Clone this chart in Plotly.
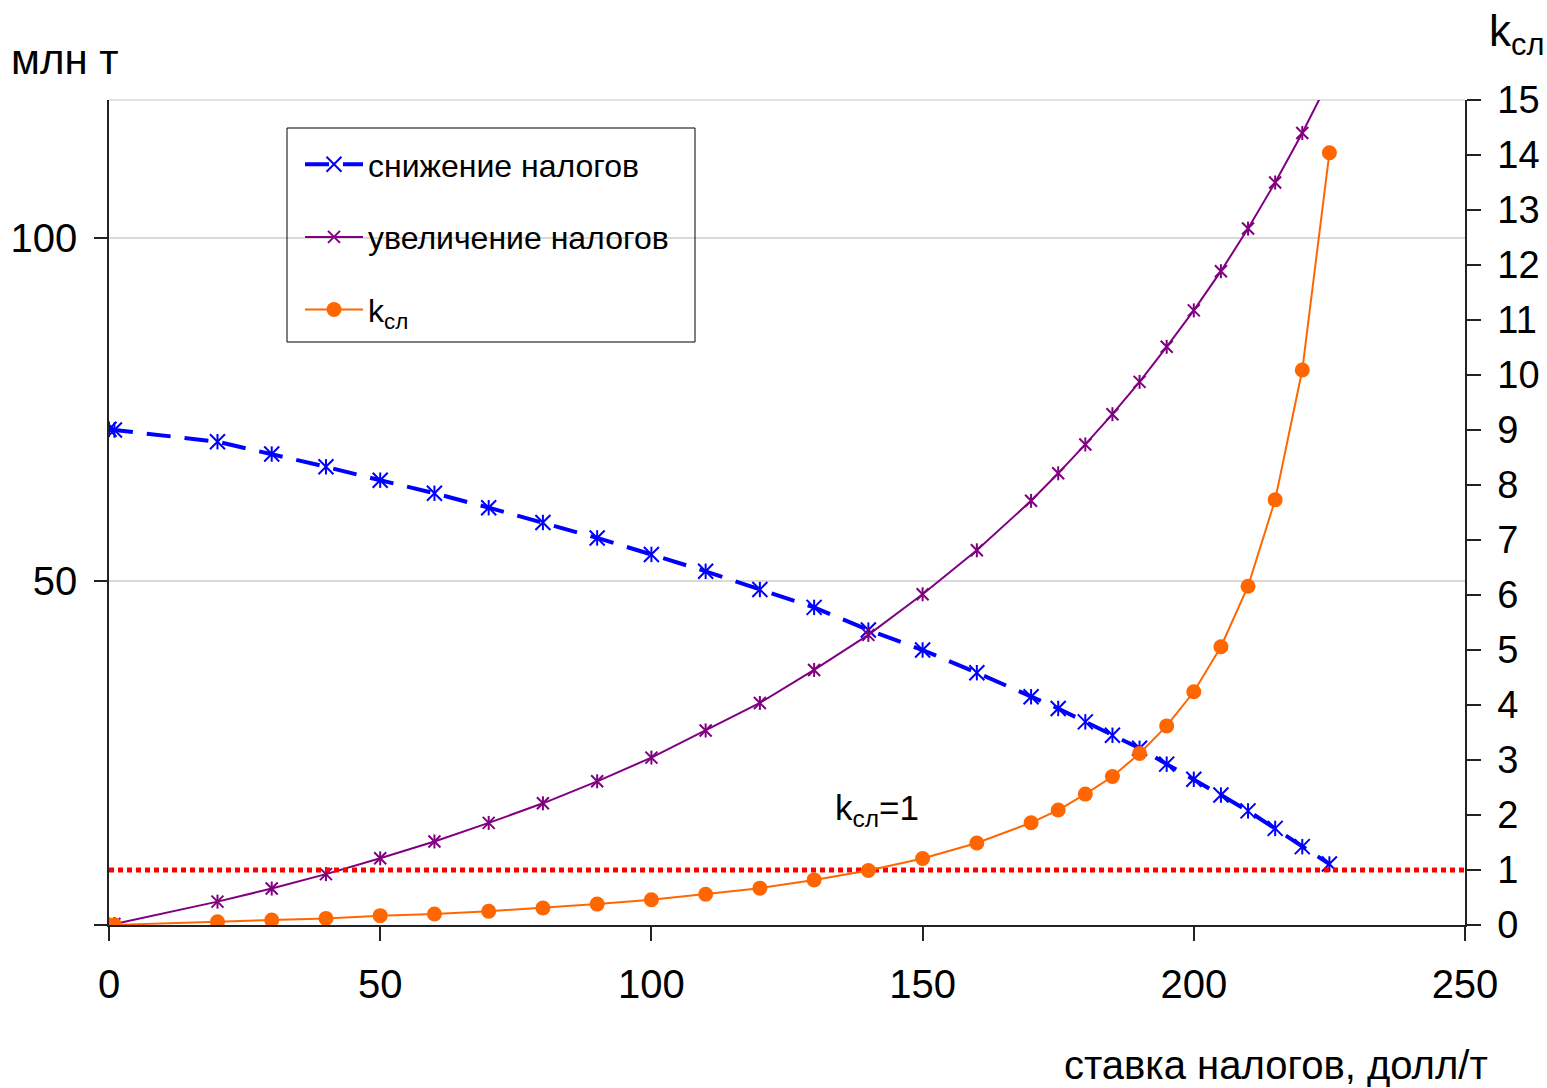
import plotly.graph_objects as go

# ---- data ----
x_rate = [0, 1, 20, 30, 40, 50, 60, 70, 80, 90, 100, 110, 120, 130, 140, 150,
          160, 170, 175, 180, 185, 190, 195, 200, 205, 210, 215, 220, 225]
y_decrease = [72.1, 72.0, 70.3, 68.5, 66.65, 64.7, 62.8, 60.7, 58.55, 56.3, 53.9,
              51.45, 48.8, 46.2, 42.9, 40.0, 36.7, 33.2, 31.5, 29.55, 27.6, 25.7,
              23.4, 21.2, 18.9, 16.6, 14.05, 11.4, 8.87]
y_increase = [0.0, 0.15, 3.4, 5.3, 7.4, 9.7, 12.15, 14.85, 17.7, 20.9, 24.35,
              28.3, 32.3, 37.1, 42.2, 48.1, 54.5, 61.7, 65.7, 69.9, 74.3, 79.0,
              84.1, 89.4, 95.1, 101.3, 108.0, 115.2, 123.0]
k_sl = [0.0, 0.002, 0.06, 0.09, 0.12, 0.17, 0.20, 0.25, 0.31, 0.38, 0.46, 0.56,
        0.67, 0.82, 0.99, 1.21, 1.49, 1.86, 2.09, 2.38, 2.70, 3.12, 3.62, 4.24,
        5.06, 6.16, 7.73, 10.09, 14.04]
k_ref_x = [0, 250]
k_ref_y = [1, 1]

x_ticks = [0, 50, 100, 150, 200, 250]
y_ticks = [0, 50, 100]
y_ticktext = ["", "50", "100"]
y2_ticks = list(range(0, 16))

FONT = "Liberation Sans, Arial, sans-serif"
W, H = 1547, 1088
PL, PR, PT, PB = 109, 1465, 100, 925
PW, PH = PR - PL, PB - PT


def px(xp):
    return (xp - PL) / PW


def py(yp):
    return (PB - yp) / PH


BLUE = "#0000FF"
PURPLE = "#800080"
ORANGE = "#FF6600"
RED = "#FF0000"

fig = go.Figure()

fig.add_trace(go.Scatter(
    x=x_rate, y=y_decrease, name="снижение налогов", mode="lines+markers",
    line=dict(color=BLUE, width=4, dash="24px,14px"),
    marker=dict(symbol="x-thin-open", size=15, color=BLUE, line=dict(color=BLUE, width=2)),
    legendgroup="a", hoverinfo="x+y"))
fig.add_trace(go.Scatter(
    x=x_rate, y=y_decrease, mode="markers", showlegend=False, legendgroup="a",
    marker=dict(symbol="line-ns-open", size=11, color=BLUE, line=dict(color=BLUE, width=2)),
    hoverinfo="skip"))

fig.add_trace(go.Scatter(
    x=x_rate, y=y_increase, name="увеличение налогов", mode="lines+markers",
    line=dict(color=PURPLE, width=2),
    marker=dict(symbol="x-thin-open", size=12, color=PURPLE, line=dict(color=PURPLE, width=2)),
    legendgroup="b", hoverinfo="x+y"))
fig.add_trace(go.Scatter(
    x=x_rate, y=y_increase, mode="markers", showlegend=False, legendgroup="b",
    marker=dict(symbol="line-ns-open", size=10, color=PURPLE, line=dict(color=PURPLE, width=2)),
    hoverinfo="skip"))

fig.add_trace(go.Scatter(
    x=k_ref_x, y=k_ref_y, mode="lines", showlegend=False, yaxis="y2",
    line=dict(color=RED, width=5, dash="5px,4px"), hoverinfo="skip"))

fig.add_trace(go.Scatter(
    x=x_rate, y=k_sl, name="k<sub>сл</sub>", mode="lines+markers", yaxis="y2",
    line=dict(color=ORANGE, width=2),
    marker=dict(symbol="circle", size=15, color=ORANGE),
    legendgroup="c", hoverinfo="x+y"))

fig.update_layout(
    template="none",
    width=W, height=H, autosize=False,
    margin=dict(l=PL, r=W - PR, t=PT, b=H - PB, pad=0, autoexpand=False),
    paper_bgcolor="white", plot_bgcolor="white",
    font=dict(family=FONT, size=40, color="black"),
    showlegend=True,
    legend=dict(
        x=px(300), y=py(137), xanchor="left", yanchor="top",
        bgcolor="rgba(0,0,0,0)", borderwidth=0,
        font=dict(family=FONT, size=32, color="black"),
        traceorder="grouped", tracegroupgap=28, itemwidth=58,
    ),
    xaxis=dict(
        range=[0, 250], tickvals=x_ticks, showgrid=False, zeroline=False,
        automargin=False,
        showline=True, linecolor="#222", linewidth=1.5,
        ticks="outside", ticklen=14, tickwidth=1.5, tickcolor="#222",
        ticklabelstandoff=9,
        tickfont=dict(family=FONT, size=40, color="black"),
    ),
    yaxis=dict(
        range=[0, 120], tickvals=y_ticks, ticktext=y_ticktext,
        showgrid=True, gridcolor="#d9d9d9", gridwidth=1.5, zeroline=False,
        automargin=False,
        showline=True, linecolor="#222", linewidth=1.5,
        ticks="outside", ticklen=13, tickwidth=1.5, tickcolor="#222",
        ticklabelstandoff=9,
        tickfont=dict(family=FONT, size=40, color="black"),
    ),
    yaxis2=dict(
        range=[0, 15], tickvals=y2_ticks, overlaying="y", side="right",
        showgrid=False, zeroline=False, automargin=False,
        showline=True, linecolor="#222", linewidth=1.5,
        ticks="outside", ticklen=14, tickwidth=1.5, tickcolor="#222",
        ticklabelstandoff=9,
        tickfont=dict(family=FONT, size=38, color="black"),
    ),
    shapes=[
        # legend frame
        dict(type="rect", xref="paper", yref="paper",
             x0=px(287), x1=px(695), y0=py(342), y1=py(128),
             line=dict(color="black", width=1), fillcolor="rgba(0,0,0,0)", layer="above"),
        # top border of plot area (light grey, like gridlines)
        dict(type="line", xref="paper", yref="paper", x0=0, x1=1, y0=1, y1=1,
             line=dict(color="#d9d9d9", width=1.5), layer="below"),
    ],
    annotations=[
        dict(text="млн т", xref="paper", yref="paper", x=px(9), y=py(60),
             xanchor="left", yanchor="middle", showarrow=False,
             font=dict(family=FONT, size=42, color="black")),
        dict(text="k<sub>сл</sub>", xref="paper", yref="paper", x=px(1487), y=py(34),
             xanchor="left", yanchor="middle", showarrow=False,
             font=dict(family=FONT, size=44, color="black")),
        dict(text="k<sub>сл</sub>=1", xref="paper", yref="paper", x=px(833), y=py(810),
             xanchor="left", yanchor="middle", showarrow=False,
             font=dict(family=FONT, size=35, color="black")),
        dict(text="ставка налогов, долл/т", xref="paper", yref="paper", x=px(1490), y=py(1065),
             xanchor="right", yanchor="middle", showarrow=False,
             font=dict(family=FONT, size=40, color="black")),
    ],
)

fig.write_html(
    "out.html",
    config={"displayModeBar": False},
    post_script="document.body.style.margin='0';document.body.style.overflow='hidden';",
)
